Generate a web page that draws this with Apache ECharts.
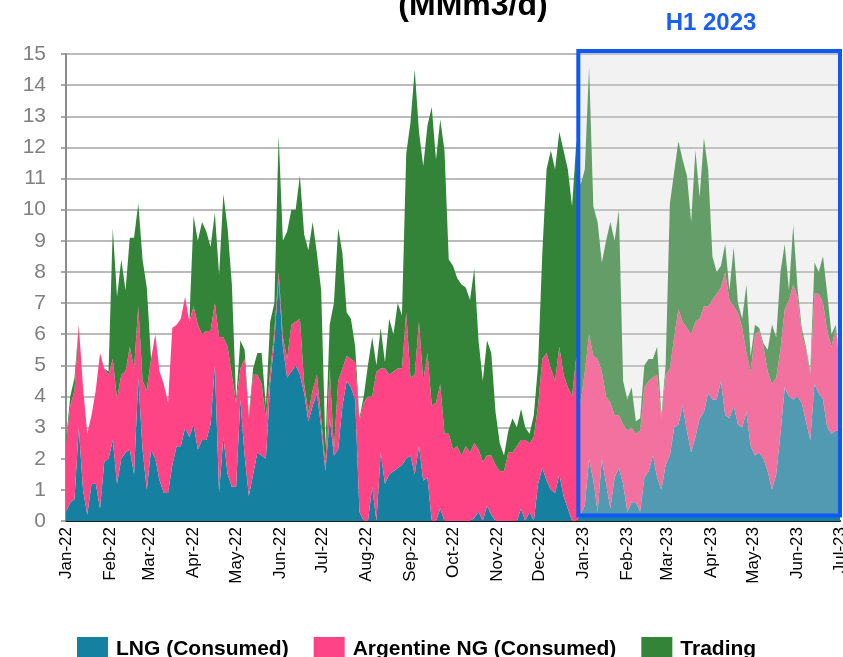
<!DOCTYPE html>
<html><head><meta charset="utf-8">
<script src="https://cdn.jsdelivr.net/npm/echarts@6/dist/echarts.min.js"></script>
<style>html,body{margin:0;padding:0;background:#fff}#c{width:843px;height:657px}</style>
</head><body><div id="c"></div>
<script>
// sampling step of the series (days, starting 1 Jan 2022)
const STEP_DAYS = 3;
const monthLabels = ['Jan-22','Feb-22','Mar-22','Apr-22','May-22','Jun-22','Jul-22','Aug-22','Sep-22','Oct-22','Nov-22','Dec-22',
  'Jan-23','Feb-23','Mar-23','Apr-23','May-23','Jun-23','Jul-23'];
const seriesNames = ['LNG (Consumed)','Argentine NG (Consumed)','Trading'];

const lng = [
 0.3,0.6,0.7,3.0,1.0,0.2,1.2,1.2,0.4,1.9, 2.0,2.6,1.2,2.0,2.2,2.3,1.5,4.6,2.3,1.0,
 2.3,2.0,1.3,0.9,0.9,1.8,2.4,2.4,3.0,2.7, 3.1,2.3,2.6,2.6,3.1,5.0,0.9,2.7,1.5,1.1,
 1.1,3.9,2.1,0.8,1.5,2.2,2.1,2.0,4.4,5.8, 7.8,5.6,4.6,4.8,5.0,4.7,4.1,3.2,3.7,4.1,
 3.0,1.6,3.3,2.1,2.3,3.7,4.5,4.3,3.9,0.3, 0,0,1.1,0,2.2,1.2,1.5,1.6,1.7,1.8,
 2.0,2.1,1.5,2.4,1.3,1.4,0,0,0.4,0, 0,0,0,0,0,0,0.1,0.3,0,0.5,
 0.2,0,0,0,0,0,0,0.4,0,0.3, 0,1.2,1.7,1.3,1.0,0.9,1.5,0.8,0.4,0,
 0,0.2,0.5,2.0,1.3,0.3,2.0,1.2,0.4,1.4, 1.7,1.2,0.3,0.6,0.6,0.3,1.4,1.6,2.1,1.4,
 1.0,1.8,2.1,3.0,3.1,3.7,2.9,2.2,2.7,3.3, 3.5,4.1,3.9,3.9,4.5,3.4,3.3,3.7,3.1,3.0,
 3.5,2.4,2.1,2.2,2.0,1.6,1.0,1.5,2.8,4.3, 4.0,3.9,4.0,3.8,3.2,2.6,4.4,4.1,3.9,3.0,
 2.8,2.9,2.9
];
const argNg = [
 2.2,3.1,3.5,3.3,3.3,2.6,2.2,3.0,5.0,3.0, 2.7,2.6,2.7,2.7,2.6,3.3,3.4,2.3,2.2,3.2,
 2.9,4.0,3.5,3.5,2.9,4.4,3.9,4.1,4.2,3.7, 3.8,4.0,3.4,3.5,3.0,2.0,5.0,3.2,4.1,3.6,
 2.7,1.0,3.1,2.5,3.2,2.5,2.3,1.3,0.4,0.3, 0.2,0.3,0.6,1.5,1.4,1.8,0.3,0.3,0.5,0.6,
 0.3,0.2,1.6,0.2,2.2,1.2,0.8,0.9,1.2,2.9, 3.8,4.0,2.9,4.8,2.7,3.7,3.2,3.2,3.2,3.1,
 4.7,2.5,3.2,4.0,3.2,4.0,3.7,3.8,4.0,2.8, 2.8,2.3,2.4,2.1,2.4,2.2,2.4,2.0,1.9,1.6,
 1.9,1.8,1.6,1.6,2.2,2.2,2.4,2.2,2.6,2.2, 2.7,2.5,3.5,4.1,3.9,3.6,4.1,3.9,3.9,4.0,
 5.3,3.6,4.3,4.0,4.0,4.9,2.8,2.8,3.4,2.0, 1.7,1.9,2.6,2.4,2.2,2.6,2.9,2.9,2.5,3.3,
 2.3,2.9,2.8,2.9,3.7,2.7,3.3,3.8,3.7,3.2, 3.4,2.8,3.2,3.4,3.0,4.6,3.8,3.2,3.6,3.2,
 1.9,2.4,3.9,3.9,3.6,3.2,3.4,3.1,2.7,2.5, 3.1,3.7,3.2,2.2,2.3,2.1,2.9,3.2,3.1,3.1,
 2.8,3.3,2.1
];
const trading = [
 0.1,0.3,0.4,0,0,0,0,0,0,0, 0.1,4.2,3.3,3.7,2.6,3.5,4.2,3.3,3.9,3.3,
 0,0,0,0,0,0,0,0,0,0, 2.9,2.7,3.6,3.2,2.7,2.9,2.0,4.6,3.8,2.9,
 0.1,0.9,0.3,0.1,0.2,0.7,1.0,0.4,1.6,0.9, 4.4,3.1,4.1,3.7,3.6,4.6,4.8,5.2,5.4,3.9,
 4.1,0.6,1.4,4.7,4.9,3.7,1.4,1.3,0.5,0.1, 0.2,1.0,1.9,0.2,1.3,0.2,1.8,1.2,2.1,1.7,
 5.1,8.2,9.8,6.1,6.9,7.3,9.6,7.8,8.5,9.1, 5.6,5.9,5.4,5.5,5.1,4.9,5.6,3.5,2.6,3.7,
 3.3,1.7,0.9,0.5,0.7,1.1,0.6,1.0,0.4,0.3, 0.7,1.3,3.4,5.9,7.0,6.8,6.9,7.2,7.0,6.1,
 6.9,7.0,6.5,8.6,4.8,4.4,3.5,5.0,5.8,5.6, 6.6,1.4,1.0,1.3,0.4,0.4,0.7,0.7,0.6,0.9,
 0.1,0.3,5.3,5.3,5.4,5.2,4.9,3.6,5.5,3.9, 5.4,4.4,1.4,0.7,0.7,0.9,0.3,1.9,0.3,0.3,
 2.2,0.5,0.3,0.1,0.1,0.7,1.9,1.3,2.5,2.1, 0.3,1.9,0.3,0.2,0.1,0.1,1.0,0.7,1.5,1.2,
 0.4,0.1,0.1
];
// highlighted period (H1 2023): day offsets from 1 Jan 2022 and value range
const highlight = {fromDay: 361.4, toDay: 546, fromVal: 0.18, toVal: 15.1};

const colors = ['#1680a1', '#ff4486', '#338439'];
const DAY = 86400000;
const base = Date.UTC(2022, 0, 1);
const endT = Date.UTC(2023, 6, 1);
const times = lng.map((_, i) => base + i * STEP_DAYS * DAY);
const pairs = arr => arr.map((v, i) => [times[i], v]);
const FONT = '"Liberation Sans", Arial, sans-serif';
const labelFor = v => {
  const d = new Date(v);
  const idx = (d.getUTCFullYear() - 2022) * 12 + d.getUTCMonth();
  return d.getUTCDate() === 1 ? (monthLabels[idx] || '') : '';
};

const chart = echarts.init(document.getElementById('c'), null, {renderer: 'canvas'});
const mk = (name, arr, color) => ({
  name, type: 'line', stack: 'total', data: pairs(arr), symbol: 'none', showSymbol: false,
  lineStyle: {width: 0, opacity: 0}, itemStyle: {color}, areaStyle: {color, opacity: 1},
  emphasis: {disabled: true}, z: 2
});
chart.setOption({
  animation: false,
  useUTC: true,
  grid: {left: 66, right: 3, top: 54, bottom: 136, containLabel: false, outerBoundsMode: 'none'},
  xAxis: {
    type: 'time', min: base, max: endT, splitNumber: 18,
    minInterval: 28 * DAY, maxInterval: 31 * DAY,
    axisLine: {show: true, lineStyle: {color: '#1a1a1a', width: 2}},
    axisTick: {show: false}, splitLine: {show: false},
    axisLabel: {
      rotate: 90, margin: 6, hideOverlap: false, showMinLabel: true, showMaxLabel: true,
      formatter: v => labelFor(v),
      color: '#000', fontSize: 17, fontFamily: FONT
    }
  },
  yAxis: {
    type: 'value', min: 0, max: 15, interval: 1,
    axisLine: {show: true, lineStyle: {color: '#8c8c8c', width: 2}},
    axisTick: {show: true, length: 5, lineStyle: {color: '#8c8c8c', width: 1.5}},
    splitLine: {show: true, lineStyle: {color: '#a3a3a3', width: 1.5}},
    axisLabel: {color: '#808080', fontSize: 21, fontFamily: FONT, margin: 20}
  },
  legend: {
    data: seriesNames, left: 72, top: 632, itemWidth: 31, itemHeight: 24, itemGap: 25, icon: 'rect',
    textStyle: {fontSize: 21, fontWeight: 'bold', color: '#000', fontFamily: FONT, padding: [0, 0, 0, 3]}
  },
  graphic: {elements: [
    {id: 'title', type: 'text', x: 473, y: 6, z: 100, style: {text: '(MMm3/d)', font: 'bold 32px ' + FONT, fill: '#000',
      align: 'center', verticalAlign: 'middle', textAlign: 'center', textVerticalAlign: 'middle'}},
    {id: 'h1', type: 'text', x: 711, y: 23, z: 100, style: {text: 'H1 2023', font: 'bold 24px ' + FONT, fill: '#1a5ef2',
      align: 'center', verticalAlign: 'middle', textAlign: 'center', textVerticalAlign: 'middle'}}
  ]},
  series: [
    mk(seriesNames[0], lng, colors[0]),
    mk(seriesNames[1], argNg, colors[1]),
    mk(seriesNames[2], trading, colors[2])
  ]
});
// highlight box positioned from data coordinates through the chart's own scales
const p1 = chart.convertToPixel({gridIndex: 0}, [base + highlight.fromDay * DAY, highlight.fromVal]);
const p2 = chart.convertToPixel({gridIndex: 0}, [base + highlight.toDay * DAY, highlight.toVal]);
chart.setOption({graphic: {elements: [
  {id: 'box', type: 'rect', z: 50, silent: true,
   shape: {x: p1[0], y: p2[1], width: p2[0] - p1[0], height: p1[1] - p2[1]},
   style: {fill: 'rgba(214,214,214,0.31)', stroke: '#0f58f5', lineWidth: 4}}
]}});
</script>
</body></html>
